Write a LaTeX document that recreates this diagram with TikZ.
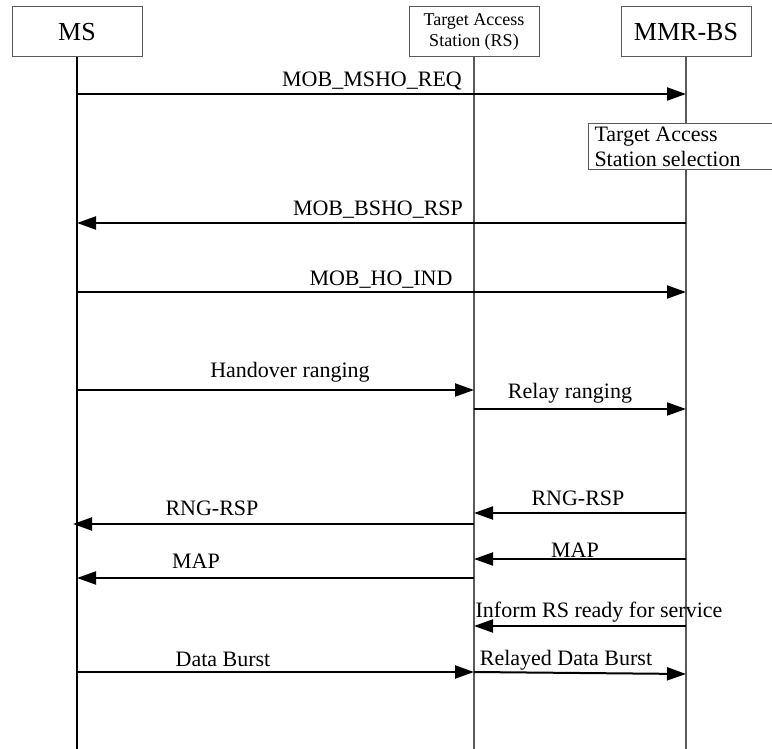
\documentclass[tikz,border=0pt]{standalone}
\usepackage{fontspec}
\setmainfont{Liberation Serif}
\usetikzlibrary{arrows.meta}

\tikzset{
    actor/.style={draw=black!65,
        line width=1pt,
        minimum width=130pt,
        minimum height=50pt,
        inner sep=0pt,
        align=center,
        font=\fontsize{26}{28}\selectfont},
    lifeline/.style={black!65, line width=1.2pt},
    msg/.style={line width=2pt, -{Triangle[length=19pt,width=13pt]}},
    lbl/.style={anchor=base, inner sep=0pt, font=\fontsize{22}{25}\selectfont}
}

\begin{document}
\begin{tikzpicture}[x=1pt,y=-1pt]
    \useasboundingbox (0,0) rectangle (772,749);

    \node[actor] (ms) at (77,32){MS};
    \node[actor,
        font=\fontsize{18}{21}\selectfont
    ] (rs) at (474,32){Target Access\\Station (RS)};
    \node[actor] (bs) at (686,32){MMR-BS};

    \draw[lifeline, black] (ms.south) -- (ms.south |- 0,749);
    \draw[lifeline] (rs.south) -- (rs.south |- 0,749);
    \draw[lifeline] (bs.south) -- (bs.south |- 0,749);

    \node[draw=black!65,
        line width=1pt,
        fill=white,
        anchor=north west,
        text width=180pt,
        inner xsep=6pt,
        inner ysep=3pt,
        align=flush left,
        font=\fontsize{22}{25}\selectfont
    ] (select) at (588,123){Target Access\\Station selection};

    \draw[msg] (ms |- 0,94) -- (bs |- 0,94)
        node[lbl] at (372,87){MOB\_MSHO\_REQ};
    \draw[msg] (bs |- 0,223) -- (ms |- 0,223)
        node[lbl] at (378,215){MOB\_BSHO\_RSP};
    \draw[msg] (ms |- 0,292) -- (bs |- 0,292)
        node[lbl] at (381,286){MOB\_HO\_IND};

    \draw[msg] (ms |- 0,390) -- (rs |- 0,390)
        node[lbl] at (290,377){Handover ranging};
    \draw[msg] (rs |- 0,409) -- (bs |- 0,409)
        node[lbl] at (570,398){Relay ranging};

    \draw[msg] (bs |- 0,513) -- (rs |- 0,513)
        node[lbl] at (578,505){RNG-RSP};
    \draw[msg, shorten >=-4pt] (rs |- 0,524) -- (ms |- 0,524)
        node[lbl] at (212,515){RNG-RSP};
    \draw[msg] (bs |- 0,559) -- (rs |- 0,559)
        node[lbl] at (575,557){MAP};
    \draw[msg] (rs |- 0,578) -- (ms |- 0,578)
        node[lbl] at (196,568){MAP};
    \draw[msg] (bs |- 0,626) -- (rs |- 0,626)
        node[lbl] at (599,617){Inform RS ready for service};

    \draw[msg] (ms |- 0,672) -- (rs |- 0,672)
        node[lbl] at (223,666){Data Burst};
    \draw[msg] (rs |- 0,672) -- (bs |- 0,674)
        node[lbl] at (566,665){Relayed Data Burst};

\end{tikzpicture}
\end{document}
